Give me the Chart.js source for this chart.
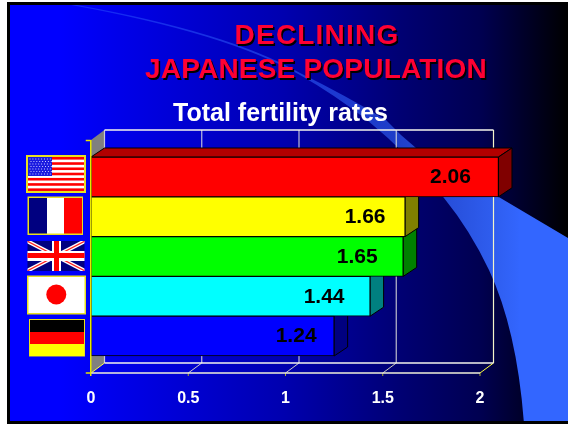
<!DOCTYPE html>
<html>
<head>
<meta charset="utf-8">
<style>
  html, body { margin: 0; padding: 0; background: #fff; }
  canvas { display: block; }
</style>
<script src="https://cdn.jsdelivr.net/npm/chart.js@4/dist/chart.umd.min.js"></script>
</head>
<body>
<canvas id="chart" width="568" height="424"></canvas>
<script>
const countries = ['USA', 'France', 'UK', 'Japan', 'Germany'];
// printed figures on the bars
const printedRates = ['2.06', '1.66', '1.65', '1.44', '1.24'];
// bar lengths as measured against the axis: the original does not draw them quite to scale
const barLengths = [2.095, 1.615, 1.605, 1.435, 1.25];
const tickValues = [0, 0.5, 1, 1.5, 2];

const frontColors = ['#ff0000', '#ffff00', '#00ff00', '#00ffff', '#0000ff'];
const sideColors = ['#800000', '#808000', '#008000', '#008080', '#000080'];
const topColors = ['#b20000', '#b2b200', '#00b200', '#00b2b2', '#0000b2'];

const labelInset = [48, 40, 46, 46, 38];
const DEPTH_X = 13.5;
const DEPTH_Y = 10;
const FONT = '"Liberation Sans", Arial, sans-serif';

function poly(ctx, pts, fill, stroke) {
  ctx.beginPath();
  pts.forEach((p, i) => (i ? ctx.lineTo(p[0], p[1]) : ctx.moveTo(p[0], p[1])));
  ctx.closePath();
  if (fill) { ctx.fillStyle = fill; ctx.fill(); }
  if (stroke) { ctx.strokeStyle = stroke; ctx.lineWidth = 1; ctx.stroke(); }
}

function line(ctx, x1, y1, x2, y2, color, width) {
  ctx.beginPath();
  ctx.moveTo(x1, y1);
  ctx.lineTo(x2, y2);
  ctx.strokeStyle = color;
  ctx.lineWidth = width || 1;
  ctx.stroke();
}

function drawSlide(ctx) {
  ctx.fillStyle = '#fff';
  ctx.fillRect(0, 0, 568, 424);
  ctx.fillStyle = '#000';
  ctx.fillRect(7, 2, 561, 422);

  const bg = ctx.createLinearGradient(60, 0, 568, 0);
  bg.addColorStop(0, '#0000ff');
  bg.addColorStop(0.44, '#0000af');
  bg.addColorStop(0.67, '#000073');
  bg.addColorStop(0.83, '#000050');
  bg.addColorStop(1, '#000000');
  ctx.fillStyle = bg;
  ctx.fillRect(10, 5, 558, 416);

  // the pale swoosh behind the chart
  const swoosh = ctx.createLinearGradient(100, 0, 520, 0);
  swoosh.addColorStop(0, 'rgba(51,102,255,0.4)');
  swoosh.addColorStop(0.7, 'rgba(51,102,255,0.6)');
  swoosh.addColorStop(0.85, 'rgba(51,102,255,0.8)');
  swoosh.addColorStop(1, 'rgba(51,102,255,1)');
  ctx.save();
  ctx.beginPath();
  ctx.rect(10, 5, 558, 416);
  ctx.clip();
  ctx.beginPath();
  ctx.moveTo(60, 2);
  ctx.quadraticCurveTo(225, 30, 300, 73);
  ctx.quadraticCurveTo(345, 95, 386, 120);
  ctx.quadraticCurveTo(400, 135, 416, 148);
  ctx.lineTo(568, 238);
  ctx.lineTo(568, 424);
  ctx.lineTo(524, 424);
  ctx.quadraticCurveTo(517, 330, 489, 270);
  ctx.quadraticCurveTo(470, 230, 444, 198);
  ctx.quadraticCurveTo(410, 155, 367, 120);
  ctx.quadraticCurveTo(335, 95, 300, 75);
  ctx.quadraticCurveTo(225, 32, 60, 3);
  ctx.closePath();
  ctx.fillStyle = swoosh;
  ctx.fill();
  ctx.restore();
}

function drawTitles(ctx) {
  ctx.save();
  ctx.textAlign = 'center';
  ctx.textBaseline = 'alphabetic';
  ctx.shadowColor = '#000';
  ctx.shadowOffsetX = 1.5;
  ctx.shadowOffsetY = 1.5;
  ctx.fillStyle = '#ff0033';
  ctx.font = 'bold 28px ' + FONT;
  ctx.letterSpacing = '1.2px';
  ctx.fillText('DECLINING', 317, 44);
  ctx.letterSpacing = '0.2px';
  ctx.fillText('JAPANESE POPULATION', 316, 78);
  ctx.letterSpacing = '0px';
  ctx.shadowColor = 'transparent';
  ctx.fillStyle = '#fff';
  ctx.font = 'bold 25px ' + FONT;
  ctx.fillText('Total fertility rates', 280.5, 121);
  ctx.restore();
}

function drawFlags(ctx) {
  const yellow = '#e8e020';
  // USA
  ctx.fillStyle = yellow; ctx.fillRect(26, 155, 60, 38);
  ctx.fillStyle = '#fff'; ctx.fillRect(28, 157, 56, 34);
  ctx.fillStyle = '#ff0000';
  for (let i = 0; i < 7; i++) ctx.fillRect(28, 157 + i * 5.23, 56, 2.6);
  ctx.fillStyle = '#1a1ae0'; ctx.fillRect(28, 157, 24, 19);
  ctx.fillStyle = '#c8c8ff';
  for (let r = 0; r < 7; r++) {
    for (let c = 0; c < 8; c++) ctx.fillRect(29.5 + c * 2.9 + (r % 2), 158.5 + r * 2.5, 1, 1);
  }
  // France
  ctx.fillStyle = yellow; ctx.fillRect(27.5, 196.5, 55.5, 38.5);
  ctx.fillStyle = '#000080'; ctx.fillRect(29, 198, 18, 35.5);
  ctx.fillStyle = '#fff'; ctx.fillRect(47, 198, 17, 35.5);
  ctx.fillStyle = '#ff0000'; ctx.fillRect(64, 198, 18, 35.5);
  // UK
  ctx.save();
  ctx.beginPath(); ctx.rect(27.5, 241, 57, 30); ctx.clip();
  ctx.fillStyle = '#000080'; ctx.fillRect(27, 241, 58, 30);
  line(ctx, 27, 241, 85, 271, '#fff', 4);
  line(ctx, 85, 241, 27, 271, '#fff', 4);
  line(ctx, 27, 241, 85, 271, '#ff2020', 1.2);
  line(ctx, 85, 241, 27, 271, '#ff2020', 1.2);
  ctx.fillStyle = '#fff'; ctx.fillRect(52, 241, 9, 30); ctx.fillRect(27, 251, 58, 10);
  ctx.fillStyle = '#ff0000'; ctx.fillRect(54, 241, 5, 30); ctx.fillRect(27, 253, 58, 5);
  ctx.restore();
  // Japan
  ctx.fillStyle = yellow; ctx.fillRect(27, 275.5, 59, 39);
  ctx.fillStyle = '#fff'; ctx.fillRect(28.5, 277, 56, 36);
  ctx.fillStyle = '#ff0000';
  ctx.beginPath(); ctx.arc(56.3, 294.5, 10, 0, Math.PI * 2); ctx.fill();
  // Germany
  ctx.fillStyle = yellow; ctx.fillRect(29, 319, 56, 37.5);
  ctx.fillStyle = '#000'; ctx.fillRect(30, 320, 54, 12);
  ctx.fillStyle = '#ff0000'; ctx.fillRect(30, 332, 54, 12);
  ctx.fillStyle = '#ffff00'; ctx.fillRect(30, 344, 54, 12);
}

function drawBox(chart) {
  const ctx = chart.ctx;
  const xs = chart.scales.x;
  const front = 373, top = 140;
  const left = xs.getPixelForValue(0);
  const right = xs.getPixelForValue(2);
  const backTop = top - DEPTH_Y, backBottom = front - DEPTH_Y;

  poly(ctx, [[left, top], [left + DEPTH_X, backTop], [left + DEPTH_X, backBottom], [left, front]], '#808080');

  tickValues.forEach((v) => {
    const px = xs.getPixelForValue(v);
    const color = v === 2 ? '#f4f4c8' : 'rgba(235,235,225,0.8)';
    line(ctx, px + DEPTH_X, backTop, px + DEPTH_X, backBottom, color, 1.2);
    line(ctx, px, front, px + DEPTH_X, backBottom, v === 2 || !v ? '#ffff40' : 'rgba(240,240,200,0.85)', 1);
    if (v) line(ctx, px, front, px, front + 3, '#a8a830', 1);
  });
  line(ctx, left + DEPTH_X, backTop, right + DEPTH_X, backTop, '#f4f4ec', 1.5);
  line(ctx, left + DEPTH_X, backBottom, right + DEPTH_X, backBottom, '#f4f4ec', 1.5);
  line(ctx, left, front, right, front, '#f0f0d8', 1.5);
}

function drawAxisLine(chart) {
  const ctx = chart.ctx;
  const left = chart.scales.x.getPixelForValue(0) - 0.25;
  line(ctx, left, 140, left, 376, '#e6e600', 1.5);
  line(ctx, left - 5, 140.5, left, 140.5, '#e6e600', 1.5);
  line(ctx, left - 5, 373, left, 373, '#e6e600', 1.5);
}

const slidePlugin = {
  id: 'slide',
  beforeDraw(chart) {
    drawSlide(chart.ctx);
    drawTitles(chart.ctx);
    drawFlags(chart.ctx);
    drawBox(chart);
  },
  beforeDatasetsDraw(chart) {
    // side and top faces go under the Chart.js front faces, lowest bar first
    const ctx = chart.ctx;
    const bars = chart.getDatasetMeta(0).data;
    for (let i = bars.length - 1; i >= 0; i--) {
      const { x, y, base, height } = bars[i].getProps(['x', 'y', 'base', 'height']);
      const t = y - height / 2, b = y + height / 2;
      poly(ctx, [[base, t], [x, t], [x + DEPTH_X, t - 9], [base + DEPTH_X, t - 9]], topColors[i], '#000');
      poly(ctx, [[x, t], [x + DEPTH_X, t - 9], [x + DEPTH_X, b - 9], [x, b]], sideColors[i], '#000');
    }
  },
  afterDatasetsDraw(chart) {
    const ctx = chart.ctx;
    const bars = chart.getDatasetMeta(0).data;
    drawAxisLine(chart);
    ctx.save();
    ctx.font = 'bold 21px ' + FONT;
    ctx.fillStyle = '#000';
    ctx.textAlign = 'center';
    ctx.textBaseline = 'middle';
    bars.forEach((bar, i) => {
      ctx.fillText(printedRates[i], bar.x - labelInset[i], bar.y + 0.5);
    });
    ctx.restore();
  }
};

new Chart(document.getElementById('chart'), {
  type: 'bar',
  plugins: [slidePlugin],
  data: {
    labels: countries,
    datasets: [{
      data: barLengths,
      backgroundColor: frontColors,
      borderColor: '#000',
      borderWidth: 1,
      borderSkipped: false,
      categoryPercentage: 1,
      barPercentage: 1,
      clip: false
    }]
  },
  options: {
    indexAxis: 'y',
    responsive: false,
    animation: false,
    layout: { padding: { left: 91, right: 88, top: 157, bottom: 0 } },
    plugins: {
      legend: { display: false },
      title: { display: false },
      tooltip: { enabled: false }
    },
    scales: {
      x: {
        type: 'linear',
        min: 0,
        max: 2,
        border: { display: false },
        grid: { display: false },
        afterBuildTicks(scale) { scale.ticks = tickValues.map((value) => ({ value })); },
        afterFit(scale) { scale.height = 68; },
        ticks: {
          color: '#fff',
          padding: 25,
          maxRotation: 0,
          font: { family: FONT, size: 16, weight: 'bold' },
          callback: (value) => String(value)
        }
      },
      y: {
        type: 'category',
        display: false
      }
    }
  }
});
</script>
</body>
</html>
